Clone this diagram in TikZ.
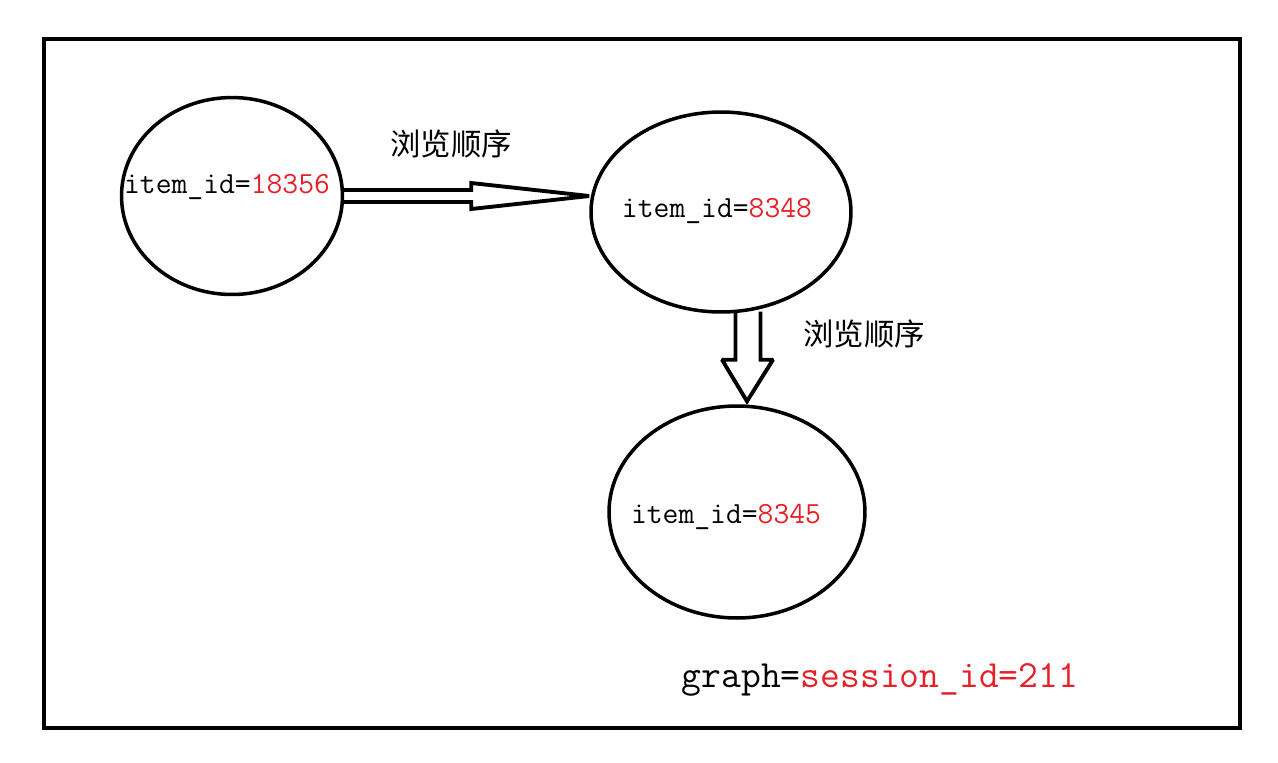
\documentclass[tikz,border=0pt]{standalone}
\usepackage{fontspec}
\newfontfamily\cjk{Noto Sans CJK SC}
\usetikzlibrary{shapes.geometric,calc}
\definecolor{idred}{RGB}{228,32,40}
\tikzset{
	item/.style={draw, ellipse, line width=2pt, inner sep=0pt},
	idtext/.style={inner sep=0pt, font=\ttfamily\fontsize{17.5}{20}\selectfont},
	order/.style={inner sep=0pt, font=\cjk\fontsize{17.3}{20}\selectfont},
	hollow/.style={line width=2.2pt, line join=miter, miter limit=2}
}
\begin{document}
\begin{tikzpicture}[x=0.02cm, y=-0.02cm]
	\useasboundingbox (0,0) rectangle (1278,762);
	\draw[line width=2.3pt] (44,39) rectangle (1240,728);

	\node[item, minimum width=4.42cm, minimum height=3.94cm] (n1) at (232,196) {};
	\node[item, minimum width=5.2cm, minimum height=4cm] (n2) at (721,212) {};
	\node[item, minimum width=5.12cm, minimum height=4.24cm] (n3) at (737,512) {};

	\node[idtext] (t1) at (227,187) {item\_id=\textcolor{idred}{18356}};
	\node[idtext] (t2) at (717,211) {item\_id=\textcolor{idred}{8348}};
	\node[idtext] (t3) at (726,517) {item\_id=\textcolor{idred}{8345}};

	% hollow arrows
	\coordinate (s1) at (n1.east);
	\coordinate (e1) at (n2.west |- n1.east);
	\draw[hollow] ($(s1)+(0,-6)$) -- ($(s1)+(127,-6)$) -- ($(s1)+(127,-13)$) -- (e1)
		-- ($(s1)+(127,13)$) -- ($(s1)+(127,6)$) -- ($(s1)+(0,6)$);
	\coordinate (s2) at ($(n2.south)+(27,-2)$);
	\coordinate (e2) at ($(n3.north)+(10,-3)$);
	\draw[hollow] ($(s2)+(-12.5,0)$) -- ($(s2)+(-12.5,48)$) -- ($(s2)+(-26,48)$) -- (e2)
		-- ($(s2)+(25,48)$) -- ($(s2)+(12.5,48)$) -- ($(s2)+(12.5,0)$);

	\node[order] (o1) at (451,144) {浏览顺序};
	\node[order] (o2) at (864,334) {浏览顺序};

	\node[idtext, font=\ttfamily\fontsize{21.9}{24}\selectfont] (g) at (880,680) {graph=\textcolor{idred}{session\_id=211}};
\end{tikzpicture}
\end{document}
